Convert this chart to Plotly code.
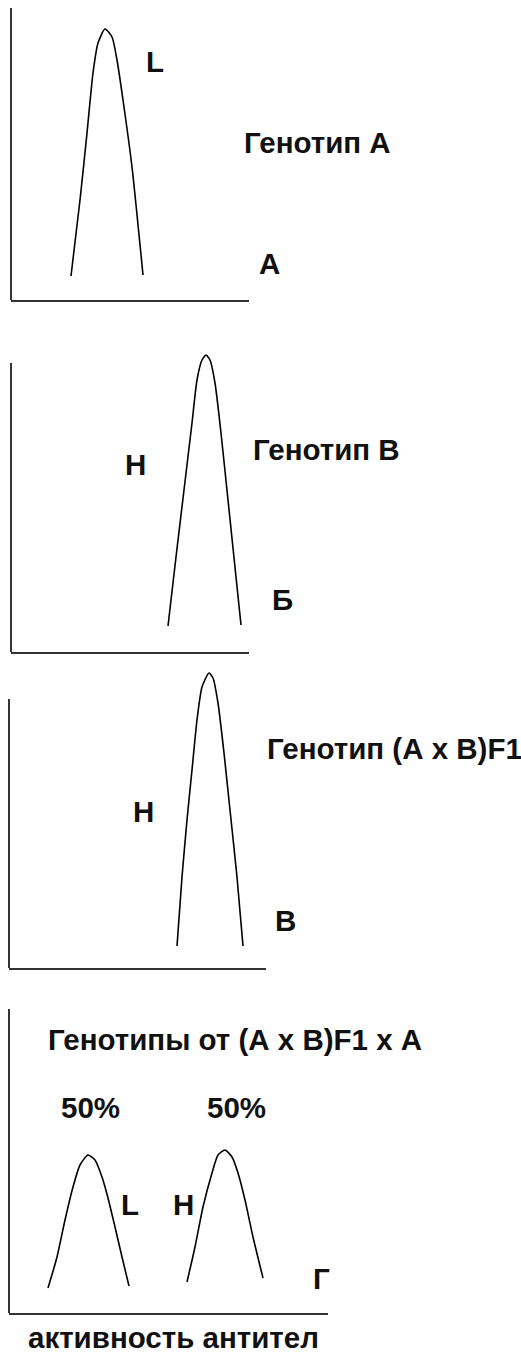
import plotly.graph_objects as go

W, H = 521, 1353

# ---- data (x: antibody activity, y: frequency; arbitrary units) ----
# Panel A: genotype A, low responders (L)
A_X = [60, 69, 76, 82, 87, 94, 101, 106, 112, 121, 132]
A_Y = [24, 100, 167, 227, 257, 271, 263, 240, 200, 133, 25]
# Panel Б: genotype B, high responders (H)
B_X = [157, 165, 173, 181, 186, 191, 195, 199, 204, 210, 217, 230]
B_Y = [26, 95, 162, 229, 272, 292, 297, 292, 269, 219, 152, 27]
# Panel В: (A x B)F1, high responders (H)
F1_X = [168, 173, 178, 183, 188, 193, 200, 204, 209, 215, 221, 228, 234]
F1_Y = [22, 91, 148, 198, 248, 281, 295, 290, 265, 215, 158, 91, 22]
# Panel Г: backcross (A x B)F1 x A -> 50% L, 50% H
BC_L_X = [39, 48, 56, 64, 71, 79, 86, 93, 99, 106, 113, 120]
BC_L_Y = [25, 56, 93, 126, 148, 158, 153, 136, 115, 86, 56, 27]
BC_H_X = [178, 186, 194, 203, 209, 216, 223, 229, 236, 244, 254]
BC_H_Y = [31, 66, 106, 140, 158, 163, 156, 140, 113, 76, 35]

# axis extents (same units as the data)
X_AXIS_LEN = [238, 238, 257, 319]
Y_AXIS_LEN = [292, 289, 269, 304]

CURVES = [
    [(A_X, A_Y)],
    [(B_X, B_Y)],
    [(F1_X, F1_Y)],
    [(BC_L_X, BC_L_Y), (BC_H_X, BC_H_Y)],
]

# ---- layout (pixel placement of each panel: left, bottom, top of plotting room) ----
PANEL_LEFT = [11, 11, 9, 9]
PANEL_BOTTOM = [300, 652, 968, 1313]
PANEL_ROOM = [292, 309, 307, 304]

AXIS_COLOR = "#333333"
FONT = dict(family="Liberation Sans, Arial, sans-serif", size=29.5, color="#111111", weight="bold")

fig = go.Figure()

for i in range(4):
    n = "" if i == 0 else str(i + 1)
    xl = PANEL_LEFT[i]
    xr = xl + X_AXIS_LEN[i]
    yb = PANEL_BOTTOM[i]
    yt = yb - PANEL_ROOM[i]
    for cx, cy in CURVES[i]:
        fig.add_trace(go.Scatter(
            x=cx, y=cy, mode="lines",
            line=dict(color="black", width=1.6, shape="spline", smoothing=0.6),
            xaxis="x" + n, yaxis="y" + n, showlegend=False, hoverinfo="skip",
        ))
    fig.update_layout(**{
        "xaxis" + n: dict(
            domain=[xl / W, xr / W], range=[0, X_AXIS_LEN[i]],
            showline=True, linecolor=AXIS_COLOR, linewidth=2,
            showgrid=False, zeroline=False, showticklabels=False, ticks="",
            anchor="y" + n, fixedrange=True,
        ),
        "yaxis" + n: dict(
            domain=[1 - yb / H, 1 - yt / H], range=[0, PANEL_ROOM[i]],
            showline=False, showgrid=False, zeroline=False,
            showticklabels=False, ticks="", anchor="x" + n, fixedrange=True,
        ),
    })
    fig.add_shape(
        type="line", xref="x" + n + " domain", yref="y" + n,
        x0=0, x1=0, y0=0, y1=Y_AXIS_LEN[i],
        line=dict(color=AXIS_COLOR, width=2),
    )

# ---- text labels (pixel positions converted to paper coordinates) ----
LABELS = [
    ("L", 155, 62, "center"),
    ("Генотип А", 243, 142, "left"),
    ("А", 269, 264, "center"),
    ("Н", 135, 464, "center"),
    ("Генотип В", 252, 450, "left"),
    ("Б", 282, 599, "center"),
    ("Н", 143, 812, "center"),
    ("Генотип (А х В)F1", 266, 748, "left"),
    ("В", 285, 920, "center"),
    ("Генотипы от (А х В)F1 х А", 47, 1039, "left"),
    ("50%", 90, 1107, "center"),
    ("50%", 236, 1107, "center"),
    ("L", 130, 1204, "center"),
    ("Н", 183, 1204, "center"),
    ("Г", 321, 1278, "center"),
    ("активность антител", 27, 1337, "left"),
]
for text, px, py, anchor in LABELS:
    fig.add_annotation(
        text=text, xref="paper", yref="paper", x=px / W, y=1 - py / H,
        xanchor=anchor, yanchor="middle", showarrow=False, font=FONT,
        borderpad=0,
    )

fig.update_layout(
    width=W, height=H, margin=dict(l=0, r=0, t=0, b=0),
    paper_bgcolor="white", plot_bgcolor="white", showlegend=False,
)

fig.write_html(
    "out.html",
    config={"displayModeBar": False},
    post_script="document.body.style.margin='0px';document.body.style.overflow='hidden';",
)
